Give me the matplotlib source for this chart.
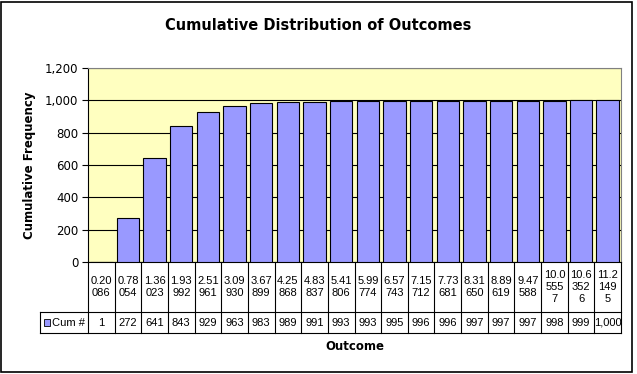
import matplotlib.pyplot as plt
from matplotlib.patches import Rectangle
from matplotlib.transforms import blended_transform_factory

# outcome bins (upper edges) and cumulative counts
outcomes = [0.20086, 0.78054, 1.36023, 1.93992, 2.51961, 3.09930, 3.67899,
            4.25868, 4.83837, 5.41806, 5.99774, 6.57743, 7.15712, 7.73681,
            8.31650, 8.89619, 9.47588, 10.05557, 10.63526, 11.21495]
cum_counts = [1, 272, 641, 843, 929, 963, 983, 989, 991, 993, 993, 995,
              996, 996, 997, 997, 997, 998, 999, 1000]
series_name = "Cum #"

bar_color = "#9999ff"
W, H = 637, 374


def wrap_label(v):
    # narrow cells wrap the number: 4 chars, then 3 per line
    s = "%.5f" % v
    parts = [s[:4]]
    rest = s[4:]
    while rest:
        parts.append(rest[:3])
        rest = rest[3:]
    return "\n".join(parts)


fig = plt.figure(figsize=(W / 100, H / 100), dpi=100)
ax = fig.add_axes([88 / W, 1 - 262 / H, (621 - 88) / W, (262 - 68) / H])
ax.set_facecolor("#ffffc0")

n = len(cum_counts)
x = list(range(n))
ax.bar(x, cum_counts, width=0.84, color=bar_color, edgecolor="black",
       linewidth=0.8, zorder=3)
ax.set_xlim(-0.5, n - 0.5)
ax.set_ylim(0, 1200)
ax.set_yticks(range(0, 1201, 200))
ax.set_yticklabels([f"{v:,}" for v in range(0, 1201, 200)],
                   fontfamily="DejaVu Sans", fontsize=8.5)
ax.yaxis.grid(True, color="black", linewidth=0.8, zorder=1)
ax.set_axisbelow(True)
ax.set_xticks([])
ax.tick_params(axis="y", length=4, width=0.8, pad=3)
for side in ["top", "right"]:
    ax.spines[side].set_color("#808080")
    ax.spines[side].set_linewidth(0.8)
for side in ["left", "bottom"]:
    ax.spines[side].set_linewidth(0.8)

# data table below the plot
tr = blended_transform_factory(ax.transData, ax.transAxes)
h_px = 262 - 68
y_row1 = -(312 - 262) / h_px
y_row2 = -(333 - 262) / h_px
x_leg = -0.5 - (88 - 40) / ((621 - 88) / n)

for i in range(n + 1):
    ax.plot([i - 0.5, i - 0.5], [0, y_row2], color="black", lw=0.8,
            transform=tr, clip_on=False)
for yy in [y_row1, y_row2]:
    ax.plot([x_leg, n - 0.5], [yy, yy], color="black", lw=0.8,
            transform=tr, clip_on=False)
ax.plot([x_leg, x_leg], [y_row1, y_row2], color="black", lw=0.8,
        transform=tr, clip_on=False)

for i in range(n):
    ax.text(i, y_row1 / 2, wrap_label(outcomes[i]), transform=tr,
            ha="center", va="center", fontsize=8,
            fontfamily="Liberation Sans", linespacing=1.3)
    ax.text(i, (y_row1 + y_row2) / 2, f"{cum_counts[i]:,}", transform=tr,
            ha="center", va="center", fontsize=8,
            fontfamily="Liberation Sans")

# legend key in the table
ax.add_patch(Rectangle((x_leg + 0.15, (y_row1 + y_row2) / 2 - 0.02), 0.22,
                       0.04, transform=tr, facecolor=bar_color,
                       edgecolor="black", lw=0.6, clip_on=False))
ax.text(x_leg + 0.45, (y_row1 + y_row2) / 2, series_name, transform=tr,
        ha="left", va="center", fontsize=8, fontfamily="Liberation Sans")

fig.text(355 / W, 1 - 346 / H, "Outcome", ha="center", va="center",
         fontsize=8.5, fontweight="bold")
fig.text(30 / W, 1 - 165 / H, "Cumulative Frequency", ha="center",
         va="center", rotation=90, fontsize=8.5, fontweight="bold")
fig.text(318 / W, 1 - 26 / H, "Cumulative Distribution of Outcomes",
         ha="center", va="center", fontsize=10.5, fontweight="bold")

fig.patches.append(Rectangle((1.5 / W, 2.5 / H), (632 - 1.5) / W,
                             (372 - 2.5) / H, transform=fig.transFigure,
                             fill=False, edgecolor="black", lw=1.2))

fig.savefig("out.png", dpi=100)
